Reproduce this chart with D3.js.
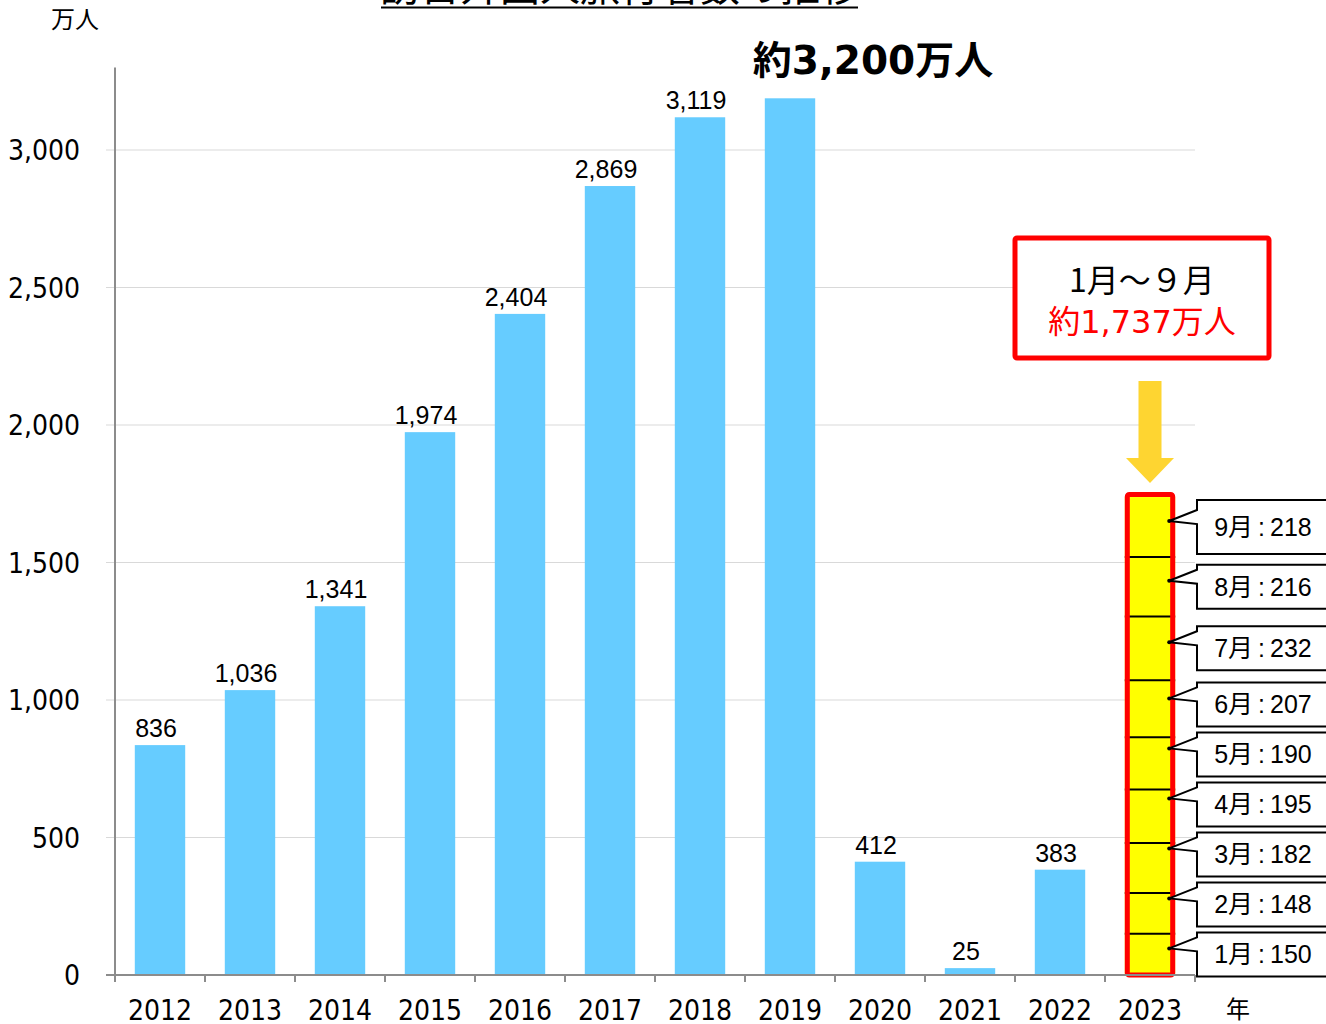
<!DOCTYPE html>
<html>
<head>
<meta charset="utf-8">
<script src="https://cdn.jsdelivr.net/npm/d3@7"></script>
<style>
  body { margin: 0; background: #fff; }
  svg { display: block; }
  .tick-label { font-family: "DejaVu Sans Condensed", "DejaVu Sans", sans-serif; font-stretch: condensed; font-size: 28px; fill: #000; }
  .value-label { font-family: "Liberation Sans", Arial, sans-serif; font-size: 25px; fill: #000; }
  .jp { font-family: "Noto Sans CJK JP", sans-serif; }
  .meiryo { font-family: "DejaVu Sans", "Noto Sans CJK JP", sans-serif; }
  .month-label { font-family: "Liberation Sans", Arial, "Noto Sans CJK JP", sans-serif; font-size: 25px; fill: #000; }
</style>
</head>
<body>
<div id="wrapper"></div>
<script>
// data
const years = ["2012", "2013", "2014", "2015", "2016", "2017", "2018", "2019", "2020", "2021", "2022", "2023"]
const visitors = [836, 1036, 1341, 1974, 2404, 2869, 3119, 3188, 412, 25, 383, null]
const showLabel = [true, true, true, true, true, true, true, false, true, true, true, false]
const months = ["1月", "2月", "3月", "4月", "5月", "6月", "7月", "8月", "9月"]
const monthly2023 = [150, 148, 182, 195, 190, 207, 232, 216, 218]
const yTicks = [0, 500, 1000, 1500, 2000, 2500, 3000]

function drawChart() {

  // dimensions
  let dimensions = {
    width: 1326,
    height: 1024,
    left: 115,
    right: 1195,
    top: 67.5,
    bottom: 975,
  }

  const svg = d3.select("#wrapper")
    .append("svg")
      .attr("width", dimensions.width)
      .attr("height", dimensions.height)

  // scales
  const xScale = d3.scaleBand()
    .domain(years)
    .range([dimensions.left, dimensions.right])
    .paddingInner(0.44)
    .paddingOuter(0.22)

  const yScale = d3.scaleLinear()
    .domain([0, 3300])
    .range([dimensions.bottom, dimensions.top])

  const step = xScale.step()
  const bw = xScale.bandwidth()

  // gridlines
  svg.append("g").selectAll("line")
    .data(yTicks.filter(d => d > 0))
    .enter().append("line")
      .attr("x1", dimensions.left - 9)
      .attr("x2", dimensions.right)
      .attr("y1", d => yScale(d))
      .attr("y2", d => yScale(d))
      .attr("stroke", "#d9d9d9")
      .attr("stroke-width", 1.2)

  // y tick labels
  svg.append("g").selectAll("text")
    .data(yTicks)
    .enter().append("text")
      .attr("class", "tick-label")
      .attr("x", 80)
      .attr("y", d => yScale(d))
      .attr("dy", "0.36em")
      .attr("text-anchor", "end")
      .text(d => d3.format(",")(d))

  const barData = years.map((y, i) => ({year: y, value: visitors[i], label: showLabel[i]}))
    .filter(d => d.value != null)

  // bars
  svg.append("g").selectAll("rect")
    .data(barData)
    .enter().append("rect")
      .attr("x", d => xScale(d.year))
      .attr("width", bw)
      .attr("y", d => yScale(d.value))
      .attr("height", d => yScale(0) - yScale(d.value))
      .attr("fill", "#66ccff")

  svg.append("g").selectAll("text")
    .data(barData.filter(d => d.label))
    .enter().append("text")
      .attr("class", "value-label")
      .attr("x", d => xScale(d.year) + bw / 2 - 4)
      .attr("y", d => yScale(d.value) - 8)
      .attr("text-anchor", "middle")
      .text(d => d3.format(",")(d.value))

  // 2023 stacked months
  const stacked = []
  let acc = 0
  monthly2023.forEach((v, i) => {
    stacked.push({month: months[i], value: v, y0: acc, y1: acc + v})
    acc += v
  })
  const total = acc
  const x23 = xScale("2023")
  const stackGroup = svg.append("g")
  stackGroup.selectAll("rect")
    .data(stacked)
    .enter().append("rect")
      .attr("x", x23)
      .attr("width", bw)
      .attr("y", d => yScale(d.y1))
      .attr("height", d => yScale(d.y0) - yScale(d.y1))
      .attr("fill", "#ffff00")
  stackGroup.selectAll("line")
    .data(stacked.slice(0, -1))
    .enter().append("line")
      .attr("x1", x23)
      .attr("x2", x23 + bw)
      .attr("y1", d => yScale(d.y1))
      .attr("y2", d => yScale(d.y1))
      .attr("stroke", "#000")
      .attr("stroke-width", 2)
  stackGroup.append("rect")
    .attr("x", x23 + 2.5)
    .attr("width", bw - 5)
    .attr("y", yScale(total) - 2.5)
    .attr("height", yScale(0) - yScale(total) + 2.5)
    .attr("rx", 2)
    .attr("fill", "none")
    .attr("stroke", "#ff0000")
    .attr("stroke-width", 5)

  // axes
  svg.append("line")
    .attr("x1", dimensions.left)
    .attr("x2", dimensions.left)
    .attr("y1", dimensions.top)
    .attr("y2", dimensions.bottom)
    .attr("stroke", "#8c8c8c")
    .attr("stroke-width", 2)
  svg.append("line")
    .attr("x1", dimensions.left - 9)
    .attr("x2", dimensions.right)
    .attr("y1", dimensions.bottom)
    .attr("y2", dimensions.bottom)
    .attr("stroke", "#8c8c8c")
    .attr("stroke-width", 2)
  svg.append("g").selectAll("line")
    .data(d3.range(years.length + 1))
    .enter().append("line")
      .attr("x1", i => dimensions.left + i * step)
      .attr("x2", i => dimensions.left + i * step)
      .attr("y1", dimensions.bottom)
      .attr("y2", dimensions.bottom + 7)
      .attr("stroke", "#8c8c8c")
      .attr("stroke-width", 2)
  svg.append("g").selectAll("text")
    .data(years)
    .enter().append("text")
      .attr("class", "tick-label")
      .attr("x", d => xScale(d) + bw / 2)
      .attr("y", 1020)
      .attr("text-anchor", "middle")
      .text(d => d)

  // callouts for months, stacked bottom-up so they don't overlap
  const boxH = 44
  let prev = Infinity
  const callouts = stacked.map(d => {
    const mid = (yScale(d.y0) + yScale(d.y1)) / 2
    const c = Math.min(mid, prev - (boxH + 6))
    prev = c
    return {...d, cy: c}
  })
  const bx0 = dimensions.right + 2
  const bx1 = dimensions.width + 20
  const tipX = x23 + bw - 6
  const calloutGroup = svg.append("g")
  calloutGroup.selectAll("path")
    .data(callouts)
    .enter().append("path")
      .attr("d", d => {
        const top = d.cy - boxH / 2 - (d.month == "9月" ? 5 : 0)
        const bottom = d.cy + boxH / 2 + (d.month == "9月" ? 5 : 0)
        return `M${bx0},${top} H${bx1} V${bottom} H${bx0} V${d.cy - 3} L${tipX},${d.cy - 6} L${bx0},${d.cy - 17} Z`
      })
      .attr("fill", "#fff")
      .attr("stroke", "#000")
      .attr("stroke-width", 2)
  calloutGroup.selectAll("circle")
    .data(callouts)
    .enter().append("circle")
      .attr("cx", tipX)
      .attr("cy", d => d.cy - 6)
      .attr("r", 2)
      .attr("fill", "#000")
  calloutGroup.selectAll("text")
    .data(callouts)
    .enter().append("text")
      .attr("class", "month-label")
      .attr("x", bx0 + 66)
      .attr("y", d => d.cy)
      .attr("dy", "0.36em")
      .attr("text-anchor", "middle")
      .text(d => `${d.month}\u2009:\u2009${d.value}`)

  // arrow pointing to 2023 stack
  const ax = x23 + bw / 2
  const aTip = yScale(total) - 14
  svg.append("path")
    .attr("d", `M${ax - 11.5},${aTip - 102} H${ax + 11.5} V${aTip - 25} H${ax + 24} L${ax},${aTip} L${ax - 24},${aTip - 25} H${ax - 11.5} Z`)
    .attr("fill", "#fed531")

  // red summary box
  const boxCx = ax - 8
  svg.append("rect")
    .attr("x", boxCx - 127)
    .attr("y", 238)
    .attr("width", 254)
    .attr("height", 120)
    .attr("rx", 2)
    .attr("fill", "#fff")
    .attr("stroke", "#ff0000")
    .attr("stroke-width", 5)
  svg.append("text")
    .attr("class", "jp")
    .attr("x", boxCx)
    .attr("y", 292)
    .attr("text-anchor", "middle")
    .attr("font-size", 32)
    .attr("fill", "#000")
    .text("1月～９月")
  svg.append("text")
    .attr("class", "meiryo")
    .attr("x", boxCx)
    .attr("y", 333)
    .attr("text-anchor", "middle")
    .attr("font-size", 32)
    .attr("fill", "#ff0000")
    .text("約" + d3.format(",")(Math.round(total - 1)) + "万人")

  // 2019 headline
  svg.append("text")
    .attr("class", "meiryo")
    .attr("x", xScale("2019") + bw / 2 + 83)
    .attr("y", 74)
    .attr("text-anchor", "middle")
    .attr("font-size", 39)
    .attr("font-weight", "bold")
    .attr("fill", "#000")
    .text("約3,200万人")

  // title (cut off at top)
  svg.append("text")
    .attr("class", "jp")
    .attr("x", 620)
    .attr("y", 1)
    .attr("text-anchor", "middle")
    .attr("font-size", 40)
    .attr("fill", "#000")
    .text("訪日外国人旅行者数の推移")
  svg.append("line")
    .attr("x1", 381)
    .attr("x2", 858)
    .attr("y1", 7.5)
    .attr("y2", 7.5)
    .attr("stroke", "#000")
    .attr("stroke-width", 2)

  // unit labels
  svg.append("text")
    .attr("class", "jp")
    .attr("x", 75)
    .attr("y", 28)
    .attr("text-anchor", "middle")
    .attr("font-size", 24)
    .text("万人")
  svg.append("text")
    .attr("class", "jp")
    .attr("x", 1238)
    .attr("y", 1018)
    .attr("text-anchor", "middle")
    .attr("font-size", 24)
    .text("年")
}
drawChart()
</script>
</body>
</html>
